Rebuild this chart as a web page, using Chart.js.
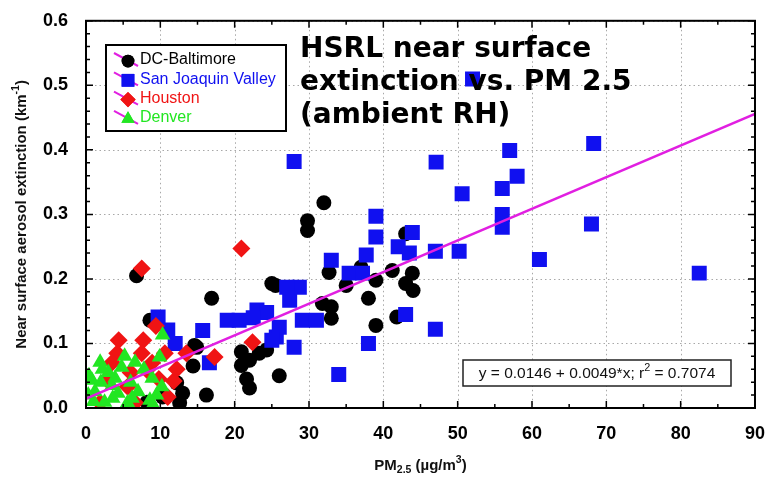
<!DOCTYPE html>
<html>
<head>
<meta charset="utf-8">
<script src="https://cdn.jsdelivr.net/npm/chart.js@4"></script>
<style>
    body { margin: 0; background: #fff; }
</style>
</head>
<body>
<canvas id="myChart" width="772" height="480"></canvas>
<script>
// DC-Baltimore (black circles)
const dcX = [6.8, 32, 29.8, 29.8, 25, 16.9, 8.6, 14.6, 20.9, 20.9, 21.6, 22, 22, 23.3, 24.3, 26, 12.6, 14.4, 10.3, 8.2,
    12.2, 13, 14.9, 16.2, 32.7, 35, 37, 38, 39, 41.2, 43, 43.9, 43, 44, 31.8, 33, 33, 39, 41.8, 25.5];
const dcY = [0.205, 0.318, 0.29, 0.275, 0.193, 0.17, 0.136, 0.097, 0.087, 0.066, 0.045, 0.031, 0.074, 0.085, 0.09, 0.05, 0.008, 0.065, 0.017, 0.009,
    0.039, 0.023, 0.094, 0.02, 0.21, 0.19, 0.218, 0.17, 0.198, 0.213, 0.27, 0.209, 0.193, 0.182, 0.162, 0.157, 0.139, 0.128, 0.141, 0.19];

// San Joaquin Valley (blue squares)
const sjvX = [52, 28, 47.1, 57, 68.3, 58, 56, 50.6, 56, 56, 68, 61, 82.5, 47, 50.2, 47, 43, 38, 34, 39,
    43.9, 39, 33, 37.7, 42, 43.5, 35.4, 37.2, 28.7, 27.4, 29.1, 31, 28, 25.6, 9.7, 11, 12, 15.7, 16.6, 19,
    20.6, 23, 24.3, 26, 25, 27, 22.5];
const sjvY = [0.51, 0.382, 0.381, 0.399, 0.41, 0.359, 0.34, 0.332, 0.30, 0.28, 0.285, 0.23, 0.209, 0.243, 0.243, 0.122, 0.145, 0.1, 0.052, 0.297,
    0.272, 0.265, 0.229, 0.237, 0.25, 0.24, 0.209, 0.209, 0.187, 0.167, 0.136, 0.136, 0.094, 0.11, 0.141, 0.121, 0.1, 0.12, 0.07, 0.136,
    0.136, 0.152, 0.148, 0.125, 0.105, 0.187, 0.14];

// Houston (red diamonds)
const houX = [20.9, 7.5, 9.4, 4.4, 22.4, 17.3, 13.5, 11.8, 4.2, 7.7, 7.5, 8.9, 10.6, 2.9, 5.6, 11, 1.9, 6.6, 8.2, 12.2,
    3.5, 6, 9.8];
const houY = [0.247, 0.216, 0.127, 0.105, 0.102, 0.079, 0.085, 0.042, 0.085, 0.105, 0.085, 0.07, 0.085, 0.043, 0.033, 0.017, 0.008, 0.008, 0.059, 0.06,
    0.07, 0.055, 0.045];

// Denver (green triangles)
const denX = [10.3, 1.9, 4.8, 6.6, 9.9, 0.8, 3.9, 8.9, 1.2, 4.3, 7, 10.2, 2.5, 5.6, 8.6, 0.4, 3, 6, 7.8, 5.2, 3.5, 9.5, 2,
    1, 3.6, 6.2, 2.2, 9, 0.3];
const denY = [0.113, 0.071, 0.063, 0.071, 0.079, 0.043, 0.046, 0.046, 0.025, 0.023, 0.025, 0.033, 0.009, 0.008, 0.012, 0.05, 0.055, 0.04, 0.06, 0.08, 0.035, 0.02, 0.04,
    0.01, 0.015, 0.015, 0.06, 0.005, 0.02];

// fit: y = a + b*x
const fitA = 0.0146;
const fitB = 0.0049;
const fitR2 = '0.7074';

const xTicks = [0, 10, 20, 30, 40, 50, 60, 70, 80, 90];
const yTicks = [0.0, 0.1, 0.2, 0.3, 0.4, 0.5, 0.6];

const titleLines = ['HSRL near surface', 'extinction vs. PM 2.5', '(ambient RH)'];

function toPoints(xs, ys) {
    return xs.map((x, i) => ({ x: x, y: ys[i] }));
}

const magenta = '#e11fe1';

const series = [
    { label: 'DC-Baltimore', color: '#000000', style: 'circle', radius: 7.5, x: dcX, y: dcY, order: 5 },
    { label: 'San Joaquin Valley', color: '#1010f0', style: 'rect', radius: 10.6, x: sjvX, y: sjvY, order: 4 },
    { label: 'Houston', color: '#f01414', style: 'rectRot', radius: 9, x: houX, y: houY, order: 3 },
    { label: 'Denver', color: '#22e622', style: 'triangle', radius: 9, x: denX, y: denY, order: 2 },
];

let datasets = series.map(s => ({
    type: 'scatter',
    label: s.label,
    data: toPoints(s.x, s.y),
    backgroundColor: s.color,
    borderColor: s.color,
    borderWidth: 0,
    pointStyle: s.style,
    pointRadius: s.radius,
    pointHoverRadius: s.radius,
    order: s.order
}));

datasets.push({
    type: 'line',
    label: 'fit',
    data: [{ x: xTicks[0], y: fitA + fitB * xTicks[0] }, { x: xTicks[xTicks.length - 1], y: fitA + fitB * xTicks[xTicks.length - 1] }],
    borderColor: magenta,
    borderWidth: 2.5,
    pointRadius: 0,
    fill: false,
    order: 1
});

// text with sub/superscripts: parts = [[text, 'n'|'sub'|'sup'], ...]
function partsWidth(ctx, parts, size, weight) {
    let w = 0;
    parts.forEach(p => {
        ctx.font = weight + ' ' + (p[1] === 'n' ? size : size * 0.7) + 'px "Liberation Sans", Arial, sans-serif';
        w += ctx.measureText(p[0]).width;
    });
    return w;
}

function drawParts(ctx, parts, x, y, size, weight) {
    let cx = x;
    parts.forEach(p => {
        let dy = 0;
        if (p[1] === 'sub') dy = size * 0.25;
        if (p[1] === 'sup') dy = -size * 0.4;
        ctx.font = weight + ' ' + (p[1] === 'n' ? size : size * 0.7) + 'px "Liberation Sans", Arial, sans-serif';
        ctx.fillText(p[0], cx, y + dy);
        cx += ctx.measureText(p[0]).width;
    });
}

// dotted grid under the points
const gridPlugin = {
    id: 'dotgrid',
    beforeDatasetsDraw(chart) {
        const ctx = chart.ctx;
        const a = chart.chartArea;
        ctx.save();
        ctx.strokeStyle = '#a8a8a8';
        ctx.lineWidth = 1;
        ctx.setLineDash([1.5, 3]);
        ctx.beginPath();
        xTicks.forEach(v => {
            const px = Math.round(chart.scales.x.getPixelForValue(v)) + 0.5;
            ctx.moveTo(px, a.top); ctx.lineTo(px, a.bottom);
        });
        yTicks.forEach(v => {
            const py = Math.round(chart.scales.y.getPixelForValue(v)) + 0.5;
            ctx.moveTo(a.left, py); ctx.lineTo(a.right, py);
        });
        ctx.stroke();
        ctx.restore();
    }
};

const decorPlugin = {
    id: 'decor',
    afterDraw(chart) {
        const ctx = chart.ctx;
        const a = chart.chartArea;
        const xs = chart.scales.x;
        const ys = chart.scales.y;
        ctx.save();

        // inward ticks on all four sides
        ctx.strokeStyle = '#000';
        ctx.lineWidth = 1.5;
        ctx.beginPath();
        for (let v = 0; v <= 90; v += 5) {
            const px = xs.getPixelForValue(v);
            const len = v % 10 === 0 ? 7 : 4;
            ctx.moveTo(px, a.bottom); ctx.lineTo(px, a.bottom - len);
            ctx.moveTo(px, a.top); ctx.lineTo(px, a.top + len);
        }
        for (let i = 0; i <= 30; i++) {
            const py = ys.getPixelForValue(i * 0.02);
            const len = i % 5 === 0 ? 7 : 4;
            ctx.moveTo(a.left, py); ctx.lineTo(a.left + len, py);
            ctx.moveTo(a.right, py); ctx.lineTo(a.right - len, py);
        }
        ctx.stroke();

        // frame
        ctx.lineWidth = 2;
        ctx.strokeRect(a.left, a.top, a.right - a.left, a.bottom - a.top);

        // axis titles
        ctx.fillStyle = '#111';
        ctx.textBaseline = 'middle';
        ctx.textAlign = 'left';
        const xt = [['PM', 'n'], ['2.5', 'sub'], [' (\u00b5g/m', 'n'], ['3', 'sup'], [')', 'n']];
        const xw = partsWidth(ctx, xt, 15, 'bold');
        drawParts(ctx, xt, (a.left + a.right) / 2 - xw / 2, 466, 15, 'bold');

        const yt = [['Near surface aerosol extinction (km', 'n'], ['-1', 'sup'], [')', 'n']];
        const yw = partsWidth(ctx, yt, 15, 'bold');
        ctx.save();
        ctx.translate(22, (a.top + a.bottom) / 2);
        ctx.rotate(-Math.PI / 2);
        drawParts(ctx, yt, -yw / 2, 0, 15, 'bold');
        ctx.restore();

        // legend box
        const lx = 106, ly = 45, lw = 180, lh = 86;
        ctx.fillStyle = '#fff';
        ctx.fillRect(lx, ly, lw, lh);
        ctx.lineWidth = 2;
        ctx.strokeStyle = '#000';
        ctx.strokeRect(lx, ly, lw, lh);
        series.forEach((s, i) => {
            const cy = 60 + i * 19.3;
            ctx.strokeStyle = magenta;
            ctx.lineWidth = 2;
            ctx.beginPath();
            ctx.moveTo(114, cy - 7);
            ctx.lineTo(138, cy + 6);
            ctx.stroke();
            ctx.fillStyle = s.color;
            Chart.helpers.drawPoint(ctx, { pointStyle: s.style, radius: s.radius * 0.85, borderWidth: 0 }, 128, cy + 1);
            ctx.fill();
            ctx.fillStyle = s.color;
            ctx.font = '16px "Liberation Sans", Arial, sans-serif';
            ctx.textBaseline = 'middle';
            ctx.fillText(s.label, 140, cy);
        });

        // regression box
        ctx.fillStyle = '#fff';
        ctx.fillRect(463, 360, 268, 26);
        ctx.strokeStyle = '#222';
        ctx.lineWidth = 1.5;
        ctx.strokeRect(463, 360, 268, 26);
        ctx.fillStyle = '#111';
        const rt = [['y = ' + fitA + ' + ' + fitB + '*x; r', 'n'], ['2', 'sup'], [' = ' + fitR2, 'n']];
        const rw = partsWidth(ctx, rt, 15.5, 'normal');
        drawParts(ctx, rt, 463 + 134 - rw / 2, 374, 15.5, 'normal');

        // big title text
        ctx.fillStyle = '#000';
        ctx.textBaseline = 'alphabetic';
        ctx.font = 'bold 28px "DejaVu Sans", sans-serif';
        titleLines.forEach((t, i) => {
            ctx.fillText(t, 300, 57 + i * 33);
        });

        ctx.restore();
    }
};

const config = {
    data: { datasets: datasets },
    options: {
        responsive: false,
        animation: false,
        layout: { padding: { left: 0, right: 15, top: 20, bottom: 0 } },
        plugins: {
            legend: { display: false },
            tooltip: { enabled: false }
        },
        scales: {
            x: {
                type: 'linear',
                min: xTicks[0],
                max: xTicks[xTicks.length - 1],
                afterBuildTicks: scale => { scale.ticks = xTicks.map(v => ({ value: v })); },
                afterFit: scale => { scale.height = 72; },
                ticks: {
                    color: '#000',
                    padding: 7,
                    font: { family: '"Liberation Sans", Arial, sans-serif', size: 18, weight: 'bold' },
                    callback: v => String(v)
                },
                grid: { display: false },
                border: { display: false }
            },
            y: {
                type: 'linear',
                min: yTicks[0],
                max: yTicks[yTicks.length - 1],
                afterBuildTicks: scale => { scale.ticks = yTicks.map(v => ({ value: v })); },
                afterFit: scale => { scale.width = 86; },
                ticks: {
                    color: '#000',
                    padding: 10,
                    font: { family: '"Liberation Sans", Arial, sans-serif', size: 18, weight: 'bold' },
                    callback: v => Number(v).toFixed(1)
                },
                grid: { display: false },
                border: { display: false }
            }
        }
    },
    plugins: [gridPlugin, decorPlugin]
};

let myChart = new Chart(document.getElementById('myChart'), config);
</script>
</body>
</html>
